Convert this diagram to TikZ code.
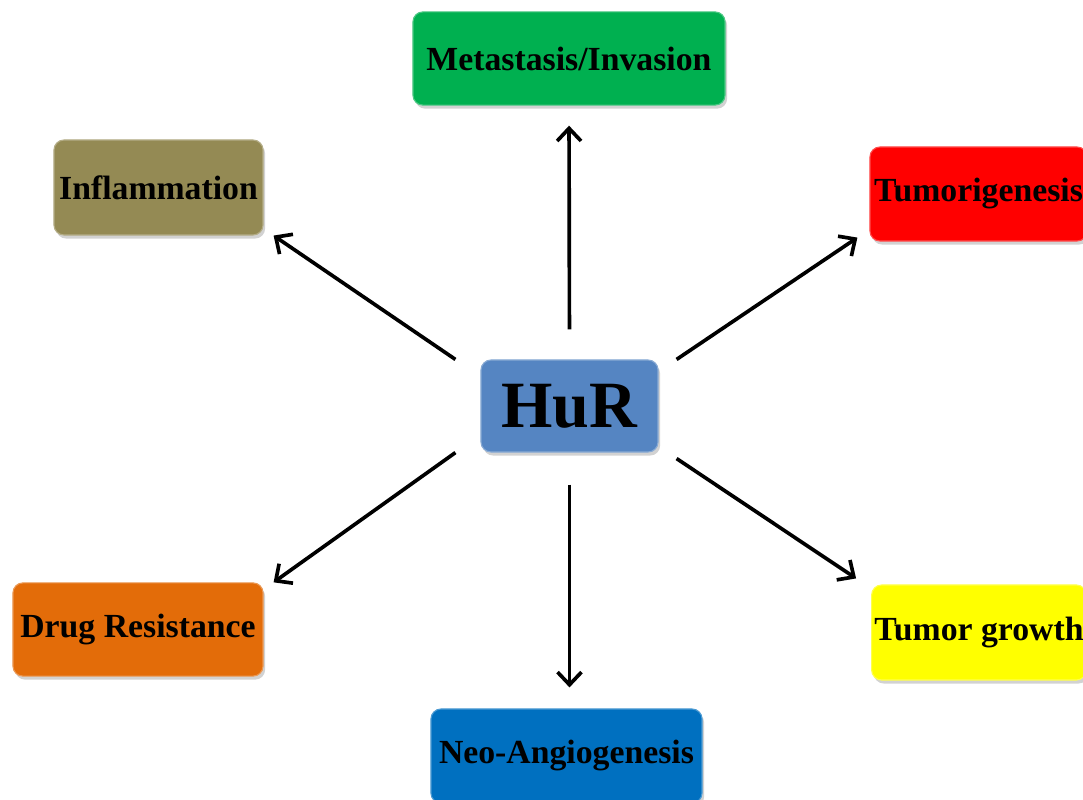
\documentclass[tikz,border=0pt]{standalone}
\usepackage{fontspec}
\setmainfont{Liberation Serif}
\usetikzlibrary{arrows.meta,shadows}

\definecolor{metagreen}{HTML}{00B050}
\definecolor{inflolive}{HTML}{948A54}
\definecolor{tumred}{HTML}{FF0000}
\definecolor{hurblue}{HTML}{5585C2}
\definecolor{drugorange}{HTML}{E36C09}
\definecolor{growyellow}{HTML}{FFFF00}
\definecolor{neoblue}{HTML}{0070C0}

\tikzset{
	box/.style={rectangle, rounded corners=0.25cm, fill=#1, draw=#1!70!white, line width=0.8pt,
		drop shadow={opacity=0.35, shadow xshift=1.5pt, shadow yshift=-2.5pt},
		inner sep=2pt, font=\bfseries\fontsize{24}{27}\selectfont, text=black,
		minimum height=2.33cm},
	arr/.style={line width=2.6pt, -{Straight Barb[length=9pt,width=17pt,line width=2.6pt]}}
}

\begin{document}
\begin{tikzpicture}[x=0.025cm, y=-0.025cm]
			%%%%% FRAME %%%%%
			\clip (0, 0) rectangle (1083, 800);
			\fill[white] (0, 0) rectangle (1083, 800);
			
			%%%%% BOXES %%%%%
			\node[box=hurblue, minimum width=4.425cm, minimum height=2.3cm, font=\bfseries\fontsize{47}{50}\selectfont] (hur) at (569.5, 406) {HuR};
			
			\node[box=metagreen, minimum width=7.8cm] (meta) at (569, 58.5) {Metastasis/Invasion};
			\node[box=inflolive, minimum width=5.225cm, minimum height=2.375cm] (infl) at (158.5, 187.5) {Inflammation};
			\node[box=tumred, minimum width=5.425cm, minimum height=2.35cm] (tumori) at (978.5, 194) {Tumorigenesis};
			\node[box=drugorange, minimum width=6.25cm] (drug) at (138, 629.5) {Drug Resistance};
			\node[box=growyellow, minimum width=5.3cm, minimum height=2.375cm] (growth) at (979, 632.5) {Tumor growth};
			\node[box=neoblue, minimum width=6.775cm, minimum height=2.35cm] (neo) at (566.5, 756) {Neo-Angiogenesis};
			
			%%%%% ARROWS %%%%%
			\draw[arr, shorten <=0.75cm, shorten >=0.5cm] (hur.north) -- (meta.south);
			\draw[arr] ([xshift=-0.625cm]hur.north west) -- ([xshift=0.25cm]infl.south east);
			\draw[arr] ([xshift=0.45cm]hur.north east) -- ([xshift=-0.3cm, yshift=0.1cm]tumori.south west);
			\draw[arr] ([xshift=-0.625cm]hur.south west) -- ([xshift=0.25cm]drug.north east);
			\draw[arr] ([xshift=0.45cm, yshift=-0.15cm]hur.south east) -- ([xshift=-0.375cm, yshift=0.15cm]growth.north west);
			\draw[arr, shorten <=0.8cm, shorten >=0.525cm] (hur.south) -- (hur.south |- neo.north);
\end{tikzpicture}
\end{document}
